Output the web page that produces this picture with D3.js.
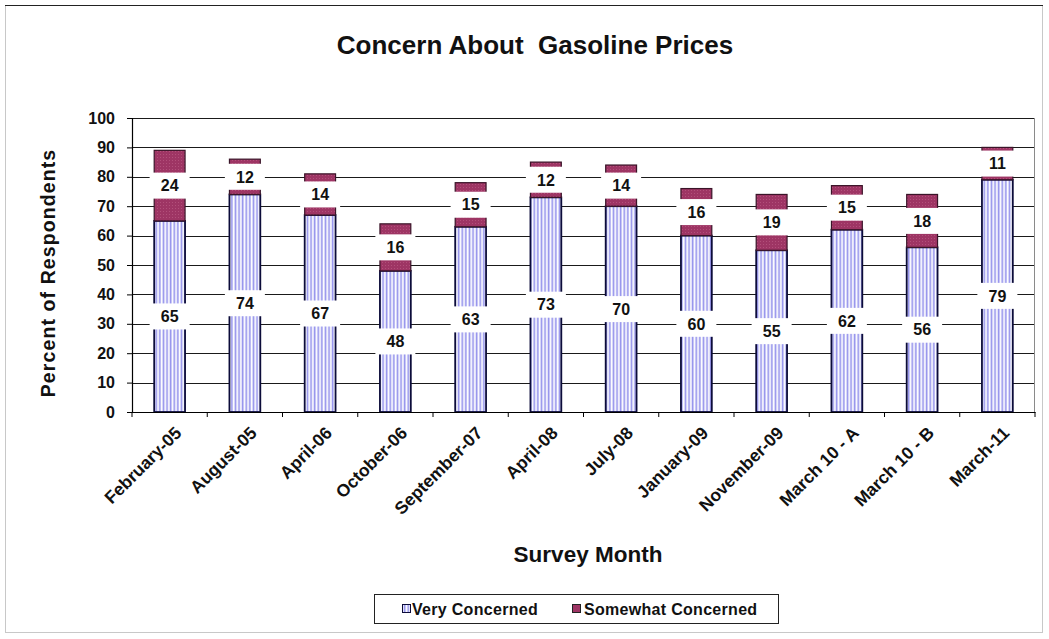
<!DOCTYPE html>
<html>
<head>
<meta charset="utf-8">
<script src="https://cdn.jsdelivr.net/npm/d3@7"></script>
<style>
  html, body { margin: 0; padding: 0; background: #fff; }
  svg { display: block; font-family: Arial, "Liberation Sans", sans-serif; }
</style>
</head>
<body>
<svg id="chart" width="1049" height="639"></svg>
<script>
const categories = ["February-05", "August-05", "April-06", "October-06", "September-07", "April-08",
  "July-08", "January-09", "November-09", "March 10 - A", "March 10 - B", "March-11"];
const veryConcerned = [65, 74, 67, 48, 63, 73, 70, 60, 55, 62, 56, 79];
const somewhatConcerned = [24, 12, 14, 16, 15, 12, 14, 16, 19, 15, 18, 11];
const seriesNames = ["Very Concerned", "Somewhat Concerned"];
const yTicks = [0, 10, 20, 30, 40, 50, 60, 70, 80, 90, 100];

const svg = d3.select("#chart");
const plot = { left: 132, right: 1035, top: 118, bottom: 412 };

// outer frame
svg.append("rect").attr("x", 5.5).attr("y", 5.5).attr("width", 1037).attr("height", 627)
  .attr("fill", "#fff").attr("stroke", "#c8c8c8").attr("stroke-width", 1);
svg.append("line").attr("x1", 5).attr("x2", 1043).attr("y1", 5.5).attr("y2", 5.5)
  .attr("stroke", "#222").attr("stroke-width", 1.2);

// patterns
const defs = svg.append("defs");
const pv = defs.append("pattern").attr("id", "vstripe").attr("patternUnits", "userSpaceOnUse")
  .attr("width", 3.6).attr("height", 10);
pv.append("rect").attr("width", 3.6).attr("height", 10).attr("fill", "#ffffff");
pv.append("rect").attr("x", 0.6).attr("width", 1.7).attr("height", 10).attr("fill", "#9593ec");
const ps = defs.append("pattern").attr("id", "maroon").attr("patternUnits", "userSpaceOnUse")
  .attr("width", 3).attr("height", 3);
ps.append("rect").attr("width", 3).attr("height", 3).attr("fill", "#9e3564");
ps.append("rect").attr("x", 1).attr("y", 1).attr("width", 1).attr("height", 1).attr("fill", "#b24f7a");

const x = d3.scaleBand().domain(categories).range([plot.left, plot.right])
  .paddingInner(0.59).paddingOuter(0.295);
const y = d3.scaleLinear().domain([0, 100]).range([plot.bottom, plot.top]);

// gridlines
svg.append("g").selectAll("line").data(yTicks.filter(d => d > 0)).join("line")
  .attr("x1", plot.left).attr("x2", plot.right)
  .attr("y1", d => Math.round(y(d)) + 0.5).attr("y2", d => Math.round(y(d)) + 0.5)
  .attr("stroke", "#1a1a1a").attr("stroke-width", 1);
svg.append("line").attr("x1", plot.right - 0.5).attr("x2", plot.right - 0.5)
  .attr("y1", plot.top).attr("y2", plot.bottom).attr("stroke", "#8a8a8a");

// stacked data
const rows = categories.map((c, i) => ({ cat: c, very: veryConcerned[i], some: somewhatConcerned[i] }));
const stack = d3.stack().keys(["very", "some"])(rows);

const barG = svg.append("g");
barG.selectAll("rect.very").data(stack[0]).join("rect").attr("class", "very")
  .attr("x", d => x(d.data.cat)).attr("width", x.bandwidth())
  .attr("y", d => y(d[1])).attr("height", d => y(d[0]) - y(d[1]))
  .attr("fill", "url(#vstripe)").attr("stroke", "#0c0c3a").attr("stroke-width", 1.8);
barG.selectAll("rect.some").data(stack[1]).join("rect").attr("class", "some")
  .attr("x", d => x(d.data.cat)).attr("width", x.bandwidth())
  .attr("y", d => y(d[1])).attr("height", d => y(d[0]) - y(d[1]))
  .attr("fill", "url(#maroon)").attr("stroke", "#3a1428").attr("stroke-width", 1.2);

// axes
const yAxis = d3.axisLeft(y).tickValues(yTicks).tickSize(5).tickPadding(12);
const yG = svg.append("g").attr("transform", `translate(${plot.left},0)`).call(yAxis);
yG.select(".domain").attr("stroke", "#000").attr("stroke-width", 1.2);
yG.selectAll(".tick line").attr("stroke", "#000");
yG.selectAll(".tick text").attr("font-size", 16).attr("font-weight", "bold").attr("fill", "#111")
  .attr("font-family", "Arial, 'Liberation Sans', sans-serif");

const xAxis = d3.axisBottom(x).tickSize(0).tickFormat("");
const xG = svg.append("g").attr("transform", `translate(0,${plot.bottom})`).call(xAxis);
xG.select(".domain").attr("stroke", "#000").attr("stroke-width", 1.2);
const bounds = categories.map(c => x(c) - x.step() * x.paddingOuter()).concat([plot.right]);
svg.append("g").selectAll("line").data(bounds).join("line")
  .attr("x1", d => d).attr("x2", d => d).attr("y1", plot.bottom).attr("y2", plot.bottom + 5)
  .attr("stroke", "#000");
svg.append("g").selectAll("text").data(categories).join("text")
  .attr("transform", d => `translate(${x(d) + x.bandwidth() / 2 + 13},${plot.bottom + 22}) rotate(-45)`)
  .attr("text-anchor", "end")
  .attr("font-size", 17.5).attr("font-weight", "bold").attr("fill", "#111")
  .text(d => d);

// data labels
function addLabels(series, valueArr) {
  const g = svg.append("g");
  const items = g.selectAll("g").data(series).join("g")
    .attr("transform", d => `translate(${x(d.data.cat) + x.bandwidth() / 2},${y((d[0] + d[1]) / 2)})`);
  items.append("rect").attr("x", -20).attr("y", -13).attr("width", 40).attr("height", 26).attr("fill", "#fff");
  items.append("text").attr("text-anchor", "middle").attr("dy", "0.36em")
    .attr("font-size", 16).attr("font-weight", "bold").attr("fill", "#111")
    .text((d, i) => valueArr[i]);
}
addLabels(stack[0], veryConcerned);
addLabels(stack[1], somewhatConcerned);

// titles
svg.append("text").attr("x", 535).attr("y", 54).attr("text-anchor", "middle")
  .attr("font-size", 26).attr("font-weight", "bold").attr("fill", "#111")
  .style("white-space", "pre").attr("xml:space", "preserve")
  .text("Concern About  Gasoline Prices");
svg.append("text").attr("transform", "translate(55,273) rotate(-90)").attr("text-anchor", "middle")
  .attr("font-size", 19.5).attr("letter-spacing", 1.1).attr("font-weight", "bold").attr("fill", "#111")
  .text("Percent of Respondents");
svg.append("text").attr("x", 588).attr("y", 562).attr("text-anchor", "middle")
  .attr("font-size", 22.5).attr("font-weight", "bold").attr("fill", "#111")
  .text("Survey Month");

// legend
const lg = svg.append("g");
lg.append("rect").attr("x", 374.5).attr("y", 594.5).attr("width", 404).attr("height", 29)
  .attr("fill", "#fff").attr("stroke", "#222").attr("stroke-width", 1);
const legendItems = [
  { name: seriesNames[0], fill: "url(#vstripe)", stroke: "#0c0c3a", ix: 402, tx: 412 },
  { name: seriesNames[1], fill: "#9e3564", stroke: "#222", ix: 572, tx: 584 }
];
legendItems.forEach(it => {
  lg.append("rect").attr("x", it.ix + 0.5).attr("y", 604.5).attr("width", 8).attr("height", 8)
    .attr("fill", it.fill).attr("stroke", it.stroke).attr("stroke-width", 1);
  lg.append("text").attr("x", it.tx).attr("y", 614.5).attr("font-size", 16)
    .attr("letter-spacing", 0.3).attr("fill", "#111").attr("font-weight", "bold")
    .text(it.name);
});
</script>
</body>
</html>
